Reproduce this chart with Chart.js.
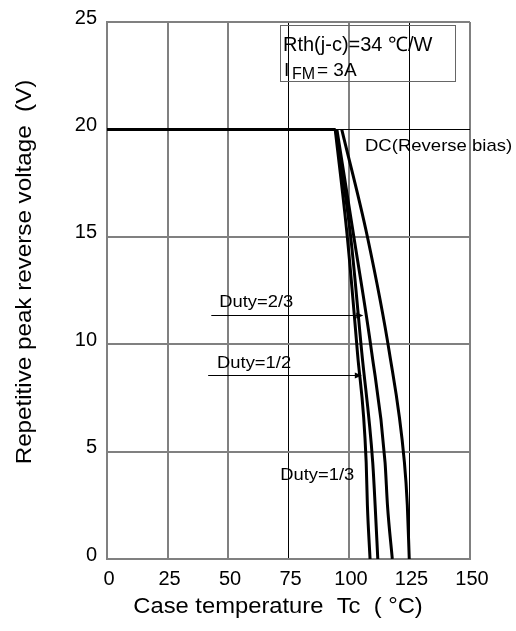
<!DOCTYPE html>
<html><head><meta charset="utf-8">
<script src="https://cdn.jsdelivr.net/npm/chart.js@4/dist/chart.umd.min.js"></script>
<style>html,body{margin:0;padding:0;background:#fff}</style>
</head><body>
<canvas id="c" width="516" height="631"></canvas>
<script>
// ---- data ----
const xTicks = [0, 25, 50, 75, 100, 125, 150];
const yTicks = [0, 5, 10, 15, 20, 25];
const flatX = [0, 94.5];
const flatV = [20, 20];
const duty13X = [94.3, 99.3, 103.5, 107.1, 107.6, 108.7];
const duty13V = [20, 15.0, 9.6, 4.5, 2.5, 0];
const duty12X = [94.5, 100.7, 105.3, 109.8, 110.8, 111.9];
const duty12V = [20, 15.0, 9.6, 4.5, 2.5, 0];
const duty23X = [95.0, 102.0, 109.4, 114.9, 115.9, 117.9];
const duty23V = [20, 15.0, 9.6, 4.5, 2.5, 0];
const dcX = [97.0, 107.6, 116.7, 122.9, 124.1, 124.9];
const dcV = [20, 15.0, 9.6, 4.5, 2.5, 0];
const xTitle = 'Case temperature  Tc  ( °C)';
const yTitle = 'Repetitive peak reverse voltage  (V)';

const pts = (xs, vs) => xs.map((x, i) => ({x: x, y: vs[i]}));
const FONT = '"Liberation Sans", Arial, sans-serif';
const GRAY = '#808080';

const ds = (xs, vs, smooth) => ({data: pts(xs, vs), showLine: true, borderColor: '#000', borderWidth: 3,
  pointRadius: 0, tension: smooth ? 0.4 : 0, cubicInterpolationMode: smooth ? 'monotone' : 'default',
  fill: false, borderCapStyle: 'butt', borderJoinStyle: 'round'});

// text drawn with a horizontal stretch factor (the source lettering is wide)
function sText(c, txt, x, y, size, sx) {
  c.save();
  c.font = size + 'px ' + FONT;
  c.translate(x, y); c.scale(sx, 1);
  c.fillText(txt, 0, 0);
  c.restore();
}

const annot = {
  id: 'annot',
  afterDraw(chart) {
    const c = chart.ctx, xs = chart.scales.x, ys = chart.scales.y;
    const X = v => xs.getPixelForValue(v), Y = v => ys.getPixelForValue(v);
    c.save();
    // info box
    c.lineWidth = 1; c.strokeStyle = '#666';
    c.strokeRect(280.5, 25.5, 175, 56);
    c.fillStyle = '#000';
    c.textBaseline = 'alphabetic'; c.textAlign = 'left';
    sText(c, 'Rth(j-c)=34 ℃/W', 283, 51, 20, 1.0);
    sText(c, 'I', 284, 76, 19, 1.0);
    sText(c, 'FM', 292, 79, 16, 1.0);
    sText(c, '= 3A', 317, 76, 19, 1.0);
    // curve labels
    sText(c, 'DC(Reverse bias)', X(106.6), Y(19.0), 17, 1.09);
    sText(c, 'Duty=2/3', X(46.4), Y(11.75), 17, 1.08);
    sText(c, 'Duty=1/2', X(45.5), Y(8.9), 17, 1.08);
    sText(c, 'Duty=1/3', X(71.6), Y(3.7), 17, 1.08);
    // arrows
    const arrow = (x0, x1, v) => {
      const y = Math.round(Y(v)) + 0.5, a = X(x0), b = X(x1);
      c.lineWidth = 1; c.strokeStyle = '#000';
      c.beginPath(); c.moveTo(a, y); c.lineTo(b - 4, y); c.stroke();
      c.beginPath(); c.moveTo(b, y); c.lineTo(b - 7, y - 3); c.lineTo(b - 7, y + 3); c.closePath(); c.fill();
    };
    arrow(43.1, 105.9, 11.37);
    arrow(41.8, 105.3, 8.55);
    // axis titles
    c.textAlign = 'center'; c.textBaseline = 'middle';
    sText(c, xTitle, 278, 607, 22, 1.08);
    c.translate(25, 272); c.rotate(-Math.PI / 2);
    sText(c, yTitle, 0, 0, 22, 1.1);
    c.restore();
  }
};

const gx = v => (v === 75 || v === 125) ? {c: '#000', w: 1} : {c: GRAY, w: 2};
const gy = v => (v === 20) ? {c: '#000', w: 1} : {c: GRAY, w: 2};

new Chart(document.getElementById('c'), {
  type: 'scatter',
  data: {datasets: [ds(flatX, flatV, false), ds(duty13X, duty13V, true), ds(duty12X, duty12V, true), ds(duty23X, duty23V, true), ds(dcX, dcV, true)]},
  options: {
    responsive: false, animation: false, devicePixelRatio: 1,
    layout: {padding: {top: 13, right: 46, left: 0, bottom: 0}},
    plugins: {legend: {display: false}, tooltip: {enabled: false}},
    scales: {
      x: {type: 'linear', min: 0, max: 150,
        afterBuildTicks: s => { s.ticks = xTicks.map(v => ({value: v})); },
        afterFit: s => { s.height = 72; },
        ticks: {color: '#000', font: {family: FONT, size: 20}, padding: 8, maxRotation: 0, labelOffset: 2},
        grid: {drawTicks: false, tickLength: 0,
          color: ctx => gx(ctx.tick && ctx.tick.value).c,
          lineWidth: ctx => gx(ctx.tick && ctx.tick.value).w},
        border: {color: GRAY, width: 2}
      },
      y: {type: 'linear', min: 0, max: 25,
        afterBuildTicks: s => { s.ticks = yTicks.map(v => ({value: v})); },
        afterFit: s => { s.width = 107; },
        ticks: {color: '#000', font: {family: FONT, size: 20}, padding: 10, labelOffset: -4},
        grid: {drawTicks: false, tickLength: 0,
          color: ctx => gy(ctx.tick && ctx.tick.value).c,
          lineWidth: ctx => gy(ctx.tick && ctx.tick.value).w},
        border: {color: GRAY, width: 2}
      }
    }
  },
  plugins: [annot]
});
</script>
</body></html>
